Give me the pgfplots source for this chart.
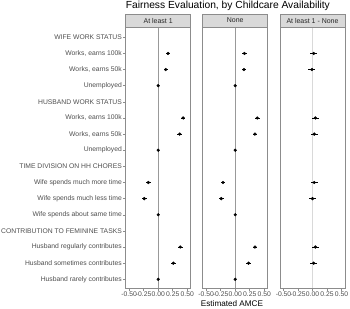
\documentclass[border=0pt]{standalone}
\usepackage{fontspec}
\setmainfont{Liberation Sans}
\usepackage{pgfplots}
\usepackage{pgfplotstable}
\pgfplotsset{compat=1.18}

\definecolor{stripfill}{HTML}{D9D9D9}
\definecolor{framegray}{HTML}{8C8C8C}
\definecolor{labgray}{HTML}{4D4D4D}
\definecolor{zerogray}{HTML}{999999}

% y: 16 = WIFE WORK STATUS (top) ... 1 = Husband rarely contributes (bottom)
\pgfplotstableread{
x y e
0.17 15 0.035
0.13 14 0.035
0.00 13 0
0.43 11 0.04
0.37 10 0.04
0.00 9 0
-0.17 7 0.04
-0.24 6 0.04
0.00 5 0
0.38 3 0.04
0.26 2 0.04
0.00 1 0
}\panelA
\pgfplotstableread{
x y e
0.16 15 0.035
0.15 14 0.035
0.00 13 0
0.38 11 0.04
0.34 10 0.04
0.00 9 0
-0.21 7 0.04
-0.24 6 0.04
0.00 5 0
0.34 3 0.04
0.23 2 0.04
0.00 1 0
}\panelB
\pgfplotstableread{
x y e
0.02 15 0.06
-0.01 14 0.06
0.05 11 0.06
0.03 10 0.06
0.03 7 0.06
0.00 6 0.06
0.05 3 0.06
0.02 2 0.06
}\panelC

\pgfplotsset{
  panel/.style={
    scale only axis, width=65bp, height=260.7bp,
    xmin=-0.56, xmax=0.56, ymin=0.46, ymax=16.62,
    axis line style={framegray, line width=0.5bp},
    xtick={-0.5,-0.25,0,0.25,0.5},
    xticklabels={-0.50,-0.25,0.00,0.25,0.50},
    xtick pos=bottom, ytick pos=left,
    tick align=outside, major tick length=2.7bp,
    tick style={framegray, line width=0.5bp},
    ticklabel style={font=\fontsize{6.8}{7}\selectfont, text=labgray},
    xticklabel style={inner sep=1bp},
    yticklabel style={inner sep=1bp},
    ytick=\empty,
    every axis title shift=0pt,
    title style={at={(0.5,1)}, anchor=south, yshift=0pt,
      fill=stripfill, draw=framegray, line width=0.5bp,
      minimum width=65bp, minimum height=13bp, inner sep=0pt,
      font=\fontsize{7}{8}\selectfont, text=black!85},
  },
  pts/.style={black, mark=*, mark size=1.4bp, only marks,
    mark options={fill=black, draw=black},
    error bars/.cd, x dir=both, x explicit,
    error bar style={black, line width=0.8bp}, error mark=none},
}

\begin{document}
\begin{tikzpicture}[x=1bp,y=1bp]
\path[use as bounding box] (0,0) rectangle (350,309);

\begin{axis}[panel, at={(125.7bp,21bp)}, anchor=south west,
  title={At least 1},
  ytick={1,...,16},
  yticklabels={Husband rarely contributes,Husband sometimes contributes,Husband regularly contributes,CONTRIBUTION TO FEMININE TASKS,Wife spends about same time,Wife spends much less time,Wife spends much more time,TIME DIVISION ON HH CHORES,Unemployed,{Works, earns 50k},{Works, earns 100k},HUSBAND WORK STATUS,Unemployed,{Works, earns 50k},{Works, earns 100k},WIFE WORK STATUS}]
\addplot[zerogray, line width=0.6bp] coordinates {(0,0.46) (0,16.62)};
\addplot[pts] table[x=x,y=y,x error=e] {\panelA};
\end{axis}

\begin{axis}[panel, at={(202.7bp,21bp)}, anchor=south west,
  title={None}]
\addplot[zerogray, line width=0.6bp] coordinates {(0,0.46) (0,16.62)};
\addplot[pts] table[x=x,y=y,x error=e] {\panelB};
\end{axis}

\begin{axis}[panel, at={(280bp,21bp)}, anchor=south west,
  title={At least 1 - None}]
\addplot[stripfill, line width=1.2bp] coordinates {(0,0.46) (0,16.62)};
\addplot[pts] table[x=x,y=y,x error=e] {\panelC};
\end{axis}

\node[anchor=base west, inner sep=0pt, font=\fontsize{10.3}{12}\selectfont] at (125.7,300.3) {Fairness Evaluation, by Childcare Availability};
\node[anchor=base, inner sep=0pt, font=\fontsize{8.2}{10}\selectfont] at (232,2.5) {Estimated AMCE};
\end{tikzpicture}
\end{document}
